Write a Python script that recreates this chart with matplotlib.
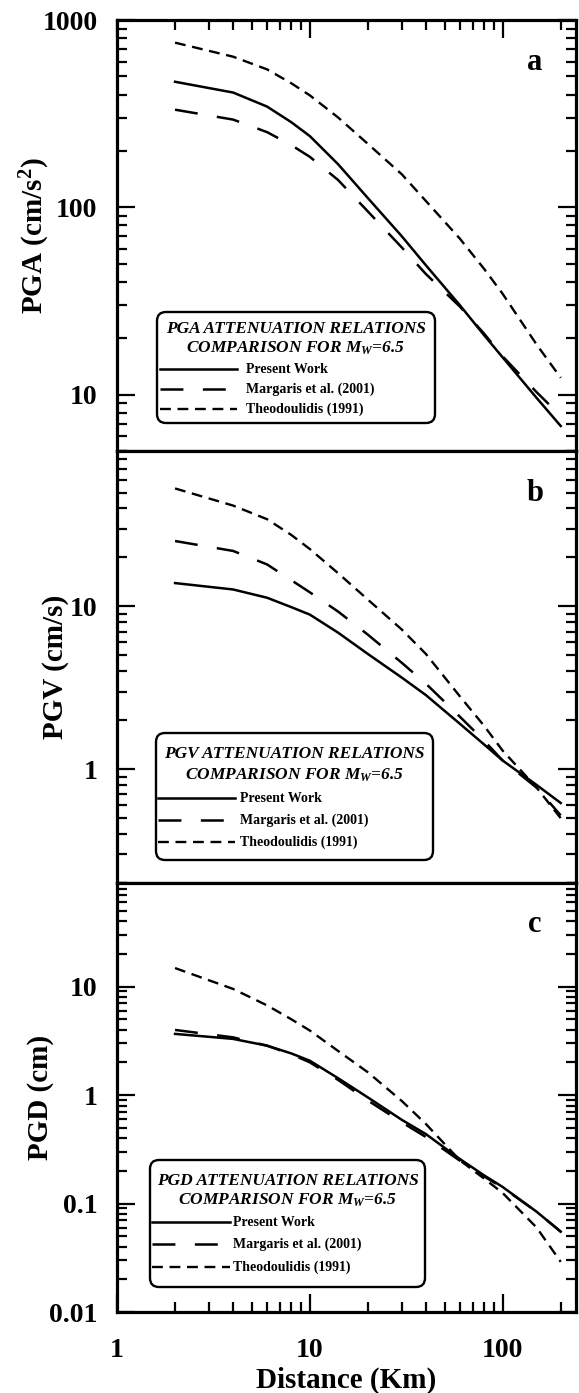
import matplotlib
matplotlib.use("Agg")
import matplotlib.pyplot as plt
from matplotlib.ticker import LogLocator, NullFormatter, FuncFormatter
from matplotlib.patches import FancyBboxPatch
from matplotlib.lines import Line2D

plt.rcParams['font.family'] = ['Liberation Serif', 'DejaVu Serif']
plt.rcParams['font.weight'] = 'bold'
plt.rcParams['mathtext.fontset'] = 'custom'
plt.rcParams['mathtext.rm'] = 'Liberation Serif:bold'
plt.rcParams['mathtext.it'] = 'Liberation Serif:italic:bold'
plt.rcParams['mathtext.bf'] = 'Liberation Serif:bold'
plt.rcParams['lines.scale_dashes'] = False

# ---------------- data ----------------
distance = [2, 4, 6, 8, 10, 14, 20, 30, 40, 60, 80, 100, 150, 200]

pga_present = [468, 410, 345, 285, 240, 170, 112, 70, 49, 30, 20.8, 15.8, 9.6, 6.8]
pga_margaris = [332, 294, 252, 215, 186, 140, 95, 61, 44, 29.5, 21.2, 16.0, 10.3, 7.7]
pga_theo = [757, 637, 545, 460, 396, 302, 218, 150, 108, 68, 47, 34.5, 18.5, 12.3]

pgv_present = [13.9, 12.7, 11.3, 9.9, 8.9, 6.9, 5.1, 3.65, 2.85, 1.9, 1.42, 1.13, 0.80, 0.62]
pgv_margaris = [25.2, 21.9, 18.1, 14.5, 12.2, 9.3, 6.7, 4.5, 3.35, 2.1, 1.5, 1.13, 0.77, 0.52]
pgv_theo = [53, 41.6, 34.3, 27.5, 22.5, 16, 11, 7.2, 5.1, 2.8, 1.85, 1.3, 0.77, 0.50]

pgd_present = [3.66, 3.29, 2.85, 2.42, 2.07, 1.43, 0.95, 0.59, 0.436, 0.257, 0.182, 0.142, 0.084, 0.055]
pgd_margaris = [3.98, 3.40, 2.85, 2.38, 2.0, 1.38, 0.89, 0.56, 0.41, 0.248, 0.178, 0.140, 0.084, 0.055]
pgd_theo = [14.8, 9.5, 6.7, 5.0, 3.93, 2.55, 1.62, 0.88, 0.54, 0.25, 0.17, 0.125, 0.06, 0.029]

series_names = ["Present Work", "Margaris et al. (2001)", "Theodoulidis (1991)"]
panel_letters = ["a", "b", "c"]
ylabels = ["PGA (cm/s$^{\\mathbf{2}}$)", "PGV (cm/s)", "PGD (cm)"]
legend_titles = ["PGA ATTENUATION RELATIONS\nCOMPARISON FOR $M_W$=6.5",
                 "PGV ATTENUATION RELATIONS\nCOMPARISON FOR $M_W$=6.5",
                 "PGD ATTENUATION RELATIONS\nCOMPARISON FOR $M_W$=6.5"]
xlabel = "Distance (Km)"

# ---------------- layout ----------------
W, H = 579, 1393
fig = plt.figure(figsize=(W / 100, H / 100), dpi=100)

left_px, right_px = 117, 576
panel_px = [(20, 451), (451, 883), (883, 1312)]
ylims = [(5, 1000), (0.2, 90), (0.01, 90)]
xlim = (1, 240)
ylabel_x = [-0.1786, -0.1329, -0.1656]

styles = [dict(color='k', lw=1.8, linestyle='-'),
          dict(color='k', lw=1.8, dashes=(16.5, 14.0)),
          dict(color='k', lw=1.7, dashes=(7.8, 4.8))]

data = [(pga_present, pga_margaris, pga_theo),
        (pgv_present, pgv_margaris, pgv_theo),
        (pgd_present, pgd_margaris, pgd_theo)]

fmt = FuncFormatter(lambda v, p: '%g' % v)

axes = []
for i, (top, bot) in enumerate(panel_px):
    ax = fig.add_axes([left_px / W, 1 - bot / H, (right_px - left_px) / W, (bot - top) / H])
    axes.append(ax)
    ax.set_xscale('log')
    ax.set_yscale('log')
    ax.set_xlim(*xlim)
    ax.set_ylim(*ylims[i])
    for vals, st in zip(data[i], styles):
        ax.plot(distance, vals, **st)
    ax.yaxis.set_major_locator(LogLocator(base=10, numticks=20))
    ax.yaxis.set_minor_locator(LogLocator(base=10, subs=range(2, 10), numticks=20))
    ax.yaxis.set_major_formatter(fmt)
    ax.yaxis.set_minor_formatter(NullFormatter())
    ax.xaxis.set_major_locator(LogLocator(base=10, numticks=20))
    ax.xaxis.set_minor_locator(LogLocator(base=10, subs=range(2, 10), numticks=20))
    ax.xaxis.set_major_formatter(fmt)
    ax.xaxis.set_minor_formatter(NullFormatter())
    for sp in ax.spines.values():
        sp.set_linewidth(2.3)
    ax.tick_params(which='major', direction='in', length=13, width=1.6,
                   labelsize=20, pad=14, left=True, right=True)
    ax.tick_params(which='minor', direction='in', length=7.5, width=1.6,
                   left=True, right=True)
    ax.tick_params(axis='x', which='both', top=(i == 0), bottom=(i == 2),
                   labelbottom=(i == 2), labeltop=False)
    ax.tick_params(axis='x', which='major', pad=19)
    for t in ax.get_yticklabels() + ax.get_xticklabels():
        t.set_fontweight('bold')
    ax.set_ylabel(ylabels[i], fontsize=21, fontweight='bold', va='center')
    ax.yaxis.set_label_coords(ylabel_x[i], 0.5)
    ax.text(0.911, 0.885, panel_letters[i], transform=ax.transAxes,
            ha='center', va='baseline', fontsize=22, fontweight='bold')

axes[2].set_xlabel(xlabel, fontsize=21, fontweight='bold', va='baseline')
axes[2].xaxis.set_label_coords(0.5, -0.177)

# ---------------- legends (pixel layout, top-origin) ----------------
legend_layout = [
    dict(box=(157, 312, 435, 423), title=(333, 353), rows=(369, 389, 409), sample=(160, 237), tx=246),
    dict(box=(156, 733, 433, 860), title=(758, 780), rows=(798, 820, 842), sample=(158, 235), tx=240),
    dict(box=(150, 1160, 425, 1287), title=(1185, 1205), rows=(1222, 1244, 1267), sample=(152, 230), tx=233),
]

tr = fig.dpi_scale_trans


def P(px, py):
    return px / 100.0, (H - py) / 100.0


for i, L in enumerate(legend_layout):
    x0, y0, x1, y1 = L['box']
    bx, by = P(x0, y1)
    box = FancyBboxPatch((bx, by), (x1 - x0) / 100.0, (y1 - y0) / 100.0,
                         boxstyle='round,pad=0,rounding_size=0.09',
                         transform=tr, facecolor='white', edgecolor='black',
                         linewidth=1.7, zorder=5)
    fig.add_artist(box)
    cx = (x0 + x1) / 2.0
    t1, t2 = legend_titles[i].split("\n")
    for txt, bl in zip((t1, t2), L['title']):
        fx, fy = P(cx, bl)
        fig.text(fx, fy, txt, transform=tr, ha='center', va='baseline',
                 fontsize=12.5, fontweight='bold', fontstyle='italic', zorder=6)
    for name, st, ry in zip(series_names, styles, L['rows']):
        sx0, sy = P(L['sample'][0], ry)
        sx1, _ = P(L['sample'][1], ry)
        ln = Line2D([sx0, sx1], [sy, sy], transform=tr, zorder=6, **st)
        fig.add_artist(ln)
        fx, fy = P(L['tx'], ry + 4)
        fig.text(fx, fy, name, transform=tr, ha='left', va='baseline',
                 fontsize=10, fontweight='bold', zorder=6)

fig.savefig('out.png', dpi=100)
